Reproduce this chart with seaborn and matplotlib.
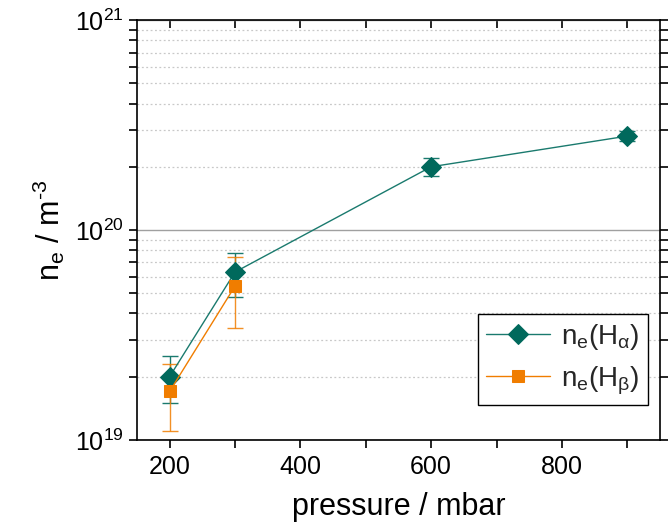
import matplotlib
matplotlib.use("Agg")
import matplotlib.pyplot as plt
import seaborn as sns
import numpy as np
import pandas as pd
from matplotlib.ticker import LogLocator, MultipleLocator, NullFormatter

# Data
pressure_a = [200, 300, 600, 900]
ne_a = [2.0e19, 6.3e19, 2.0e20, 2.8e20]
err_a = [0.5e19, 1.5e19, 0.2e20, 0.15e20]

pressure_b = [200, 300]
ne_b = [1.7e19, 5.4e19]
err_b = [0.6e19, 2.0e19]

label_a = r"n$_\mathregular{e}$(H$_\mathregular{α}$)"
label_b = r"n$_\mathregular{e}$(H$_\mathregular{β}$)"

sns.set_theme(style="ticks")
plt.rcParams['font.family'] = ['Liberation Sans', 'DejaVu Sans']
plt.rcParams['mathtext.fontset'] = 'custom'
plt.rcParams['mathtext.rm'] = 'Liberation Sans'
plt.rcParams['mathtext.it'] = 'Liberation Sans:italic'
plt.rcParams['mathtext.bf'] = 'Liberation Sans:bold'

teal = "#00695C"
teal_line = "#1A7A6E"
orange = "#F07D00"

fig, ax = plt.subplots(figsize=(6.68, 5.28), dpi=100)
fig.subplots_adjust(left=0.205, right=0.988, top=0.962, bottom=0.167)

df_a = pd.DataFrame({"p": pressure_a, "ne": ne_a})
df_b = pd.DataFrame({"p": pressure_b, "ne": ne_b})

ax.set_yscale("log")

ax.errorbar(pressure_a, ne_a, yerr=err_a, fmt="none", ecolor=teal_line,
            elinewidth=1.0, capsize=6, capthick=1.0, zorder=3)
ax.errorbar(pressure_b, ne_b, yerr=err_b, fmt="none", ecolor=orange,
            elinewidth=1.0, capsize=6, capthick=1.0, zorder=3, alpha=0.85)

sns.lineplot(data=df_a, x="p", y="ne", ax=ax, color=teal_line, lw=1.0,
             marker="D", markersize=10, markerfacecolor=teal, markeredgecolor=teal,
             label=label_a, zorder=4)
sns.lineplot(data=df_b, x="p", y="ne", ax=ax, color=orange, lw=1.0,
             marker="s", markersize=9, markerfacecolor=orange, markeredgecolor=orange,
             label=label_b, zorder=4)

ax.set_xlim(150, 950)
ax.set_ylim(1e19, 1e21)

ax.xaxis.set_major_locator(MultipleLocator(200))
ax.xaxis.set_minor_locator(MultipleLocator(100))
ax.yaxis.set_major_locator(LogLocator(base=10, numticks=10))
ax.yaxis.set_minor_locator(LogLocator(base=10, subs=np.arange(2, 10), numticks=20))
ax.yaxis.set_minor_formatter(NullFormatter())

# Grid
ax.grid(which="major", axis="y", color="#A0A0A0", lw=1.0, ls="-")
ax.grid(which="minor", axis="y", color="#C8C8C8", lw=0.9, ls=(0, (1.5, 2)))
ax.grid(which="major", axis="x", visible=False)
ax.set_axisbelow(True)

for s in ax.spines.values():
    s.set_color("black")
    s.set_linewidth(1.2)

ax.tick_params(axis="both", which="both", direction="out", color="black",
               width=1.2, labelsize=18, colors="black")
ax.tick_params(axis="both", which="major", length=6)
ax.tick_params(axis="both", which="minor", length=6)
ax.tick_params(axis="x", which="both", pad=5)
ax.tick_params(axis="y", which="both", right=True, left=True)
ax.tick_params(axis="x", which="both", top=True, bottom=True)
# Top ticks inward
for t in ax.xaxis.get_major_ticks() + ax.xaxis.get_minor_ticks():
    t.tick2line.set_marker(3)

ax.set_xlabel("pressure / mbar", fontsize=22, labelpad=9, color="black")
ax.set_ylabel("n$_\\mathregular{e}$ / m$^\\mathregular{\u20103}$",
              fontsize=22, labelpad=6, color="black")

leg = ax.legend(loc="lower right", bbox_to_anchor=(0.977, 0.083), fontsize=20,
                frameon=True, fancybox=False, framealpha=1, edgecolor="black",
                handlelength=2.3, handletextpad=0.4, borderpad=0.3, labelspacing=0.45,
                borderaxespad=0)
leg.get_frame().set_linewidth(1.0)

fig.savefig("out.png", dpi=100)
